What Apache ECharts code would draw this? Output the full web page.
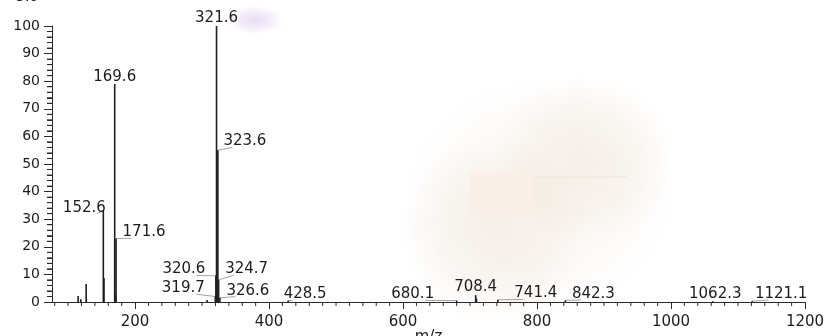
<!DOCTYPE html>
<html>
<head>
<meta charset="utf-8">
<script src="https://cdn.jsdelivr.net/npm/echarts@6/dist/echarts.min.js"></script>
<style>
  html, body { margin: 0; padding: 0; background: #ffffff; }
  #chart {
    width: 826px; height: 336px;
    /* paper tint behind the plot */
    background:
      linear-gradient(rgba(249,239,230,0.95), rgba(249,239,230,0.95)) 470px 173px / 63px 44px no-repeat,
      linear-gradient(rgba(244,233,222,0.9), rgba(244,233,222,0.9)) 533px 176px / 94px 2px no-repeat,
      radial-gradient(ellipse 27px 14px at 255px 20px, rgba(226,208,238,0.75), rgba(234,220,244,0.4) 70%, rgba(255,255,255,0)),
      radial-gradient(circle 95px at 495px 230px, rgba(228,208,186,0.26), rgba(232,214,194,0.18) 60%, rgba(255,255,255,0)),
      radial-gradient(ellipse 90px 86px at 585px 160px, rgba(228,208,186,0.26), rgba(232,214,194,0.18) 60%, rgba(255,255,255,0)),
      radial-gradient(ellipse 138px 119px at 540px 195px, rgba(228,208,186,0.14), rgba(232,214,194,0.1) 60%, rgba(255,255,255,0)),
      #ffffff;
  }
</style>
</head>
<body>
<div id="chart"></div>
<script>
// ESI mass spectrum: m/z positions and relative abundances (%)
const peakMz = [115.0, 119.0, 127.0, 152.6, 153.6, 169.6, 170.6, 171.6, 307.5,
                319.7, 320.6, 321.6, 323.6, 324.7, 326.6, 428.5, 680.1, 708.4,
                709.6, 741.4, 842.3, 1062.3, 1121.1];
const peakAbundance = [2.2, 1.0, 6.5, 33, 8.7, 79, 2.5, 23, 0.7,
                       2, 9.5, 100, 55, 8, 1.5, 0.5, 0.5, 2.5,
                       1.2, 0.8, 0.6, 0.3, 0.3];
// peaks that carry an m/z annotation
const labeledMz = [152.6, 169.6, 171.6, 319.7, 320.6, 321.6, 323.6, 324.7, 326.6,
                   428.5, 680.1, 708.4, 741.4, 842.3, 1062.3, 1121.1];
// axis range and tick values
const MZ_MIN = 76, MZ_MAX = 1200;
const xMajorTicks = [200, 400, 600, 800, 1000, 1200];
const xMinorTicks = [];
for (let v = 80; v <= 1200; v += 20) if (v % 200 !== 0) xMinorTicks.push(v);
const yMinorTicks = [];
for (let v = 2; v < 100; v += 2) if (v % 10 !== 0) yMinorTicks.push(v);

// annotation placement: text centre relative to the top of its peak (px)
const labelShift = {
  '152.6': [-19, -4], '169.6': [0, -7.5], '171.6': [28, -7],
  '319.7': [-32, -9], '320.6': [-32, -7], '321.6': [0, -9],
  '323.6': [27, -9.5], '324.7': [28, -11.5], '326.6': [28, -8],
  '428.5': [17, -7], '680.1': [-44, -7], '708.4': [0, -8.5],
  '741.4': [38, -7], '842.3': [28, -7], '1062.3': [2.5, -8], '1121.1': [29, -8]
};
const noLeader = ['169.6', '321.6', '708.4', '1062.3'];

const FONT = 'DejaVu Sans';
const INK = '#1c1c1c';
const LABEL_SIZE = 15;
const LABEL_HALF_W = 21;
// with position 'top' the text bottom sits LABEL_DIST above the peak
const LABEL_DIST = 2;

const barData = peakMz.map((mz, i) => {
  const key = mz.toFixed(1);
  const shift = labelShift[key];
  const item = { value: [mz, peakAbundance[i]], name: key };
  if (labeledMz.indexOf(mz) >= 0 && shift) {
    item.label = {
      show: true,
      offset: [shift[0], shift[1] + LABEL_DIST + LABEL_SIZE * 0.55]
    };
  }
  return item;
});

// leader lines from each annotated peak towards its text
const leaderData = [];
peakMz.forEach((mz, i) => {
  const key = mz.toFixed(1);
  if (labeledMz.indexOf(mz) >= 0 && noLeader.indexOf(key) < 0) {
    const s = labelShift[key];
    leaderData.push([mz, peakAbundance[i], s[0], s[1]]);
  }
});

const tickSeries = (values, horizontal, len) => ({
  type: 'custom',
  silent: true,
  z: 3,
  data: values.map(v => horizontal ? [v, 0] : [MZ_MIN, v]),
  renderItem: (params, api) => {
    const p = api.coord([api.value(0), api.value(1)]);
    return {
      type: 'line',
      shape: horizontal
        ? { x1: p[0], y1: p[1], x2: p[0], y2: p[1] + len }
        : { x1: p[0] - len, y1: p[1], x2: p[0], y2: p[1] },
      style: { stroke: '#2a2a2a', lineWidth: 1 }
    };
  }
});

const plainNumber = v => String(v);

const chart = echarts.init(document.getElementById('chart'));

chart.setOption({
  animation: false,
  title: {
    text: '5.0', left: 16, top: -10, padding: 0,
    textStyle: { fontFamily: FONT, fontSize: 14, fontWeight: 'normal', color: INK }
  },
  grid: { left: 52, right: 21, top: 26, bottom: 34, outerBoundsMode: 'none' },
  xAxis: {
    type: 'value',
    min: MZ_MIN, max: MZ_MAX,
    name: 'm/z',
    nameLocation: 'middle',
    nameGap: 28,
    nameMoveOverlap: false,
    nameTextStyle: { fontFamily: FONT, fontSize: 15, color: INK },
    splitLine: { show: false },
    axisLine: { show: true, lineStyle: { color: '#2a2a2a', width: 1 } },
    axisTick: { show: true, customValues: xMajorTicks, length: 7, lineStyle: { color: '#2a2a2a' } },
    axisLabel: {
      customValues: xMajorTicks, margin: 13, formatter: plainNumber,
      fontFamily: FONT, fontSize: 15, color: INK
    }
  },
  yAxis: {
    type: 'value',
    min: 0, max: 100, interval: 10,
    splitLine: { show: false },
    axisLine: { show: true, lineStyle: { color: '#2a2a2a', width: 1 } },
    axisTick: { show: true, length: 8, lineStyle: { color: '#2a2a2a' } },
    minorTick: { show: true, splitNumber: 5, length: 5, lineStyle: { color: '#2a2a2a', width: 1 } },
    axisLabel: { margin: 12, formatter: plainNumber, fontFamily: FONT, fontSize: 14, color: INK }
  },
  series: [
    {
      type: 'bar',
      barWidth: 1.6,
      itemStyle: { color: '#1e1e1e' },
      data: barData,
      label: {
        show: false,
        position: 'top',
        distance: LABEL_DIST,
        formatter: p => p.name,
        fontFamily: FONT, fontSize: LABEL_SIZE, color: INK
      }
    },
    {
      type: 'custom',
      silent: true,
      z: 1,
      data: leaderData,
      renderItem: (params, api) => {
        const p = api.coord([api.value(0), api.value(1)]);
        const dx = api.value(2), dy = api.value(3);
        const side = dx > 0 ? -1 : 1;
        const ex = p[0] + dx + side * LABEL_HALF_W * 0.6;
        const ey = p[1] + dy + LABEL_SIZE * 0.45;
        return {
          type: 'line',
          shape: { x1: p[0], y1: p[1], x2: ex, y2: ey },
          style: { stroke: '#8a8a8a', lineWidth: 0.8 }
        };
      }
    },
    tickSeries(xMinorTicks, true, 4),
    tickSeries(yMinorTicks, false, 5)
  ]
});
</script>
</body>
</html>
